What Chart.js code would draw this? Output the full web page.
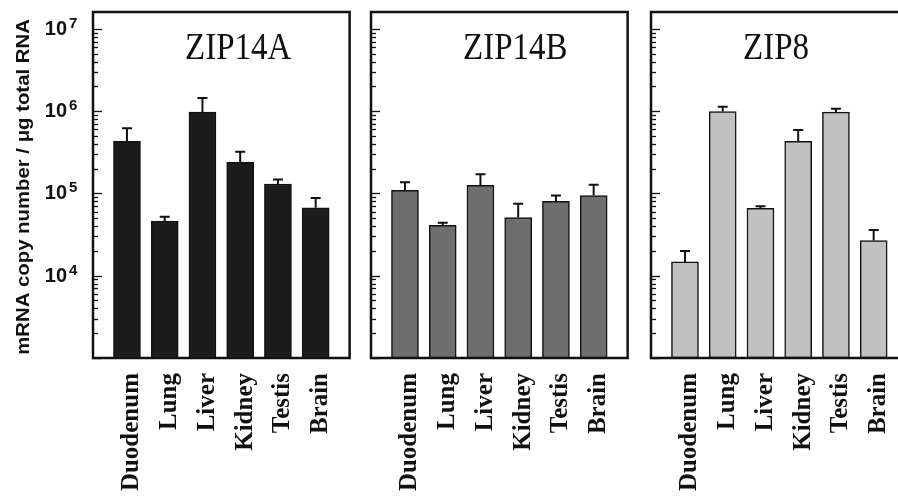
<!DOCTYPE html>
<html>
<head>
<meta charset="utf-8">
<script src="https://cdn.jsdelivr.net/npm/chart.js@4.4.1/dist/chart.umd.min.js"></script>
<style>
  html, body { margin: 0; padding: 0; background: #fff; overflow: hidden; }
  body { width: 898px; height: 498px; position: relative; }
  canvas { position: absolute; top: 0; }
</style>
</head>
<body>
<canvas id="c1" width="362" height="498" style="left:0px"></canvas>
<canvas id="c2" width="280" height="498" style="left:360px"></canvas>
<canvas id="c3" width="280" height="498" style="left:640px"></canvas>
<script>
// tissues along the x axis
var categories = ["Duodenum", "Lung", "Liver", "Kidney", "Testis", "Brain"]

// mRNA copy number / ug total RNA (mean and top of error bar)
var zip14aMean  = [430000, 46000, 970000, 240000, 130000, 67000]
var zip14aUpper = [620000, 52000, 1440000, 320000, 148000, 88000]
var zip14bMean  = [109000, 41000, 125000, 51000, 80000, 94000]
var zip14bUpper = [137000, 44000, 171000, 75000, 94000, 127000]
var zip8Mean    = [14700, 990000, 66000, 430000, 970000, 26700]
var zip8Upper   = [20000, 1130000, 70000, 590000, 1070000, 36000]

// y axis: labelled decades
var yMin = 1000
var yMax = 16000000
var decadeLabels = [4, 5, 6, 7]

var yTitle = "mRNA copy number / \u03bcg total RNA"

function stretchedText(ctx, text, x, y, sx, sy, rot) {
    ctx.save()
    ctx.translate(x, y)
    if (rot) ctx.rotate(rot)
    ctx.scale(sx, sy)
    ctx.fillText(text, 0, 0)
    ctx.restore()
}

var panelDecor = {
    id: "panelDecor",
    afterDatasetsDraw: function (chart) {
        var ctx = chart.ctx
        var area = chart.chartArea
        var xs = chart.scales.x
        var ys = chart.scales.y
        var cfg = chart.options.plugins.panelDecor

        // error bars (upper only)
        ctx.save()
        ctx.strokeStyle = "#111"
        ctx.lineWidth = 2
        for (let i = 0; i < cfg.mean.length; i++) {
            var px = xs.getPixelForValue(i)
            var y0 = ys.getPixelForValue(cfg.mean[i])
            var y1 = ys.getPixelForValue(cfg.upper[i])
            ctx.beginPath()
            ctx.moveTo(px, y0)
            ctx.lineTo(px, y1)
            ctx.moveTo(px - 5, y1)
            ctx.lineTo(px + 5, y1)
            ctx.stroke()
        }

        // inward log ticks on left axis
        ctx.lineWidth = 1.3
        for (let d = 3; d <= 7; d++) {
            for (let m = 1; m <= 9; m++) {
                var v = m * Math.pow(10, d)
                if (v < yMin || v > yMax) continue
                var py = Math.round(ys.getPixelForValue(v)) + 0.5
                var len = m == 1 ? 9 : 5
                ctx.beginPath()
                ctx.moveTo(area.left, py)
                ctx.lineTo(area.left + len, py)
                ctx.stroke()
            }
        }

        // frame
        ctx.lineWidth = 2.5
        ctx.strokeRect(area.left, area.top, area.right - area.left, area.bottom - area.top)

        // panel title
        ctx.fillStyle = "#111"
        ctx.font = "33px 'Liberation Serif', 'Times New Roman', serif"
        ctx.textAlign = "left"
        ctx.textBaseline = "alphabetic"
        stretchedText(ctx, cfg.title, area.left + 92, 59, 1, 1.14)

        if (cfg.labels) {
            // decade labels 10^n
            for (let k = 0; k < decadeLabels.length; k++) {
                var e = decadeLabels[k]
                var ty = ys.getPixelForValue(Math.pow(10, e))
                ctx.font = "bold 20px 'Liberation Sans', Arial, sans-serif"
                ctx.textAlign = "right"
                ctx.fillText("10", 67, ty + 6)
                ctx.font = "bold 15px 'Liberation Sans', Arial, sans-serif"
                ctx.textAlign = "left"
                ctx.fillText(String(e), 69, ty - 1)
            }
            // y title
            ctx.font = "bold 18px 'Liberation Sans', Arial, sans-serif"
            ctx.textAlign = "center"
            stretchedText(ctx, yTitle, 29, (area.top + area.bottom) / 2 + 2, 1.13, 1, -Math.PI / 2)
        }
        ctx.restore()
    }
}

function makePanel(id, title, mean, upper, color, yWidth, labels) {
    var points = []
    for (let i = 0; i < categories.length; i++) {
        points.push({ x: i, y: mean[i] })
    }
    return new Chart(document.getElementById(id), {
        type: "bar",
        data: {
            datasets: [{
                data: points,
                backgroundColor: color,
                borderColor: "#111",
                borderWidth: 1.5,
                borderSkipped: false,
                barThickness: 27
            }]
        },
        options: {
            responsive: false,
            animation: false,
            devicePixelRatio: 1,
            layout: { padding: { top: 12, right: 10, left: 0, bottom: 0 } },
            plugins: {
                legend: { display: false },
                tooltip: { enabled: false },
                panelDecor: { title: title, mean: mean, upper: upper, labels: labels }
            },
            scales: {
                x: {
                    type: "linear",
                    offset: false,
                    min: -0.9,
                    max: 5.9,
                    grid: { display: false, drawTicks: false, offset: false },
                    border: { display: false },
                    afterBuildTicks: function (scale) {
                        scale.ticks = categories.map(function (c, i) { return { value: i } })
                    },
                    afterFit: function (scale) { scale.height = 140 },
                    ticks: {
                        autoSkip: false,
                        minRotation: 90,
                        maxRotation: 90,
                        padding: 15,
                        labelOffset: 5,
                        color: "#111",
                        font: { family: "'Liberation Serif', 'Times New Roman', serif", size: 25, weight: "bold" },
                        callback: function (v) { return categories[v] }
                    }
                },
                y: {
                    type: "logarithmic",
                    min: yMin,
                    max: yMax,
                    grid: { display: false, drawTicks: false },
                    border: { display: false },
                    ticks: { display: false },
                    afterFit: function (scale) { scale.width = yWidth }
                }
            }
        },
        plugins: [panelDecor]
    })
}

makePanel("c1", "ZIP14A", zip14aMean, zip14aUpper, "#1c1c1c", 93, true)
makePanel("c2", "ZIP14B", zip14bMean, zip14bUpper, "#6e6e6e", 11, false)
makePanel("c3", "ZIP8", zip8Mean, zip8Upper, "#c1c1c1", 11, false)
</script>
</body>
</html>
